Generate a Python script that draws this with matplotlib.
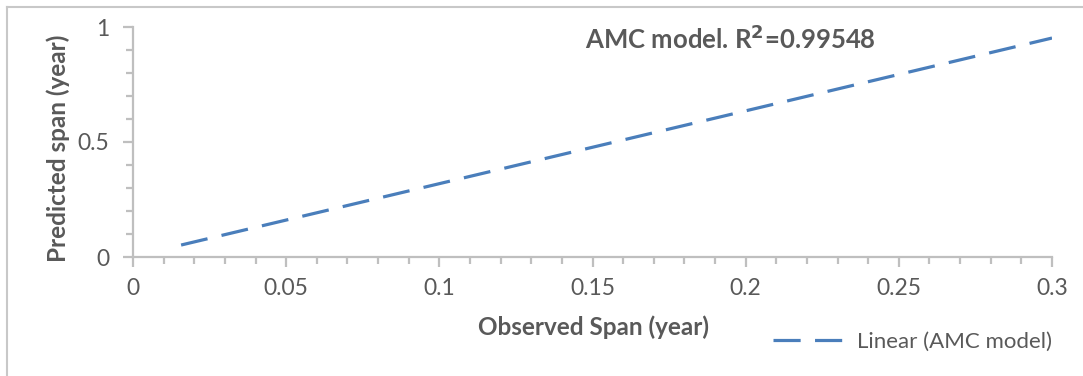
import matplotlib
matplotlib.use('Agg')
from matplotlib import pyplot as plt
from matplotlib.lines import Line2D
from matplotlib.ticker import MultipleLocator

# trend line end points (observed span, predicted span)
observed = [0.0157, 0.3]
predicted = [0.052, 0.952]
series_name = 'Linear (AMC model)'
r2 = '0.99548'
xticks = [0, 0.05, 0.1, 0.15, 0.2, 0.25, 0.3]
xlabels = ['0', '0.05', '0.1', '0.15', '0.2', '0.25', '0.3']
yticks = [0, 0.5, 1]
ylabels = ['0', '0.5', '1']

plt.rcParams['font.family'] = ['Lato', 'DejaVu Sans']
grey = '#595959'
axis_col = '#BFBFBF'
W, H = 1083, 376

fig = plt.figure(figsize=(W / 100, H / 100), dpi=100)
ax = fig.add_axes([133 / W, 1 - 257 / H, (1052 - 133) / W, (257 - 27) / H])

ax.plot(observed, predicted, color='#4A7EBB', lw=2.3, dashes=(8.5, 4.5),
        label=series_name)

ax.set_xlim(0, 0.3)
ax.set_ylim(0, 1)
ax.set_xticks(xticks)
ax.set_xticklabels(xlabels)
ax.set_yticks(yticks)
ax.set_yticklabels(ylabels)
ax.xaxis.set_minor_locator(MultipleLocator(0.01))
ax.yaxis.set_minor_locator(MultipleLocator(0.1))

for s in ['top', 'right']:
    ax.spines[s].set_visible(False)
for s in ['left', 'bottom']:
    ax.spines[s].set_color(axis_col)
    ax.spines[s].set_linewidth(1.6)
ax.tick_params(which='both', color=axis_col, width=1.6, labelcolor=grey,
               labelsize=16.5, direction='out')
ax.tick_params(which='major', length=7)
ax.tick_params(axis='x', which='major', pad=8)
ax.tick_params(axis='y', which='major', pad=10)
ax.tick_params(which='minor', length=5)

fig.text(593 / W, 1 - 327 / H, 'Observed Span (year)', fontsize=17.5,
         fontweight='bold', color=grey, ha='center', va='center')
fig.text(58 / W, 1 - 148 / H, 'Predicted span (year)', fontsize=17.5,
         fontweight='bold', color=grey, ha='center', va='center', rotation=90)

fig.text(585 / W, 1 - 39 / H, 'AMC model. R$^{\\mathbf{2}}$=' + r2,
         fontsize=18.5, fontweight='bold', color=grey, va='center', ha='left')

leg = fig.legend(loc='center right', bbox_to_anchor=(1052 / W, 1 - 342 / H),
                 frameon=False, fontsize=16, handlelength=3.6,
                 handletextpad=0.2, borderpad=0, borderaxespad=0)
for t in leg.get_texts():
    t.set_color(grey)

# chart border (left and top only visible)
fig.add_artist(Line2D([7 / W, 7 / W], [0, 1 - 7 / H], color='#C8C8C8', lw=1.5))
fig.add_artist(Line2D([7 / W, 1], [1 - 7 / H, 1 - 7 / H], color='#C8C8C8', lw=1.5))

fig.savefig('out.png', dpi=100)
